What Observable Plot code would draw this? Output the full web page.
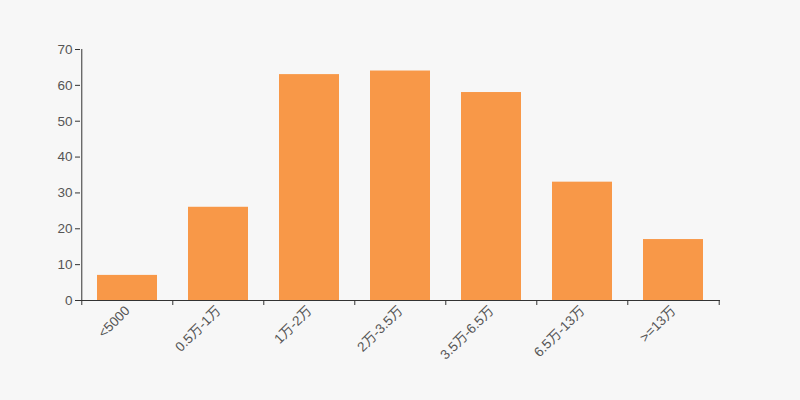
<!DOCTYPE html>
<html>
<head>
<meta charset="utf-8">
<script src="https://cdn.jsdelivr.net/npm/d3@7"></script>
<script src="https://cdn.jsdelivr.net/npm/@observablehq/plot@0.6"></script>
<style>
  html, body { margin: 0; padding: 0; background: #f7f7f7; }
  #chart svg { display: block; }
</style>
</head>
<body>
<div id="chart"></div>
<script>
const categories = ["<5000", "0.5万-1万", "1万-2万", "2万-3.5万", "3.5万-6.5万", "6.5万-13万", ">=13万"];
const values = [7, 26, 63, 64, 58, 33, 17];
const yTicks = [0, 10, 20, 30, 40, 50, 60, 70];

const data = categories.map((c, i) => ({category: c, value: values[i]}));

const width = 800, height = 400;
const marginLeft = 80, marginRight = 80, marginTop = 49, marginBottom = 100;
const step = (width - marginLeft - marginRight) / categories.length;
const axisColor = "#333";
const textColor = "#555";
const font = "'Liberation Sans', Arial, 'Noto Sans CJK SC', sans-serif";

const chart = Plot.plot({
  width, height, marginLeft, marginRight, marginTop, marginBottom,
  style: {background: "#f7f7f7", fontFamily: font, fontSize: "13.5px", color: textColor},
  x: {domain: categories, paddingInner: 0.344, paddingOuter: 0.172, label: null},
  y: {domain: [0, 70], label: null},
  marks: [
    Plot.barY(data, {x: "category", y: "value", fill: "#f89848"}),
    Plot.axisY({ticks: yTicks, tickSize: 5, tickPadding: 3, stroke: axisColor, fill: textColor, label: null}),
    Plot.axisX({tickSize: 0, tickRotate: -45, tickPadding: 8, fill: textColor, label: null}),
    Plot.axisX({tickSize: 5, text: null, dx: -step / 2, stroke: axisColor, label: null}),
    Plot.axisX({ticks: [categories[categories.length - 1]], tickSize: 5, text: null, dx: step / 2, stroke: axisColor, label: null}),
    Plot.ruleY([0], {stroke: axisColor}),
    Plot.ruleX([categories[0]], {y1: 0, y2: 70, dx: -step / 2, stroke: axisColor})
  ]
});
document.getElementById("chart").appendChild(chart);
</script>
</body>
</html>
